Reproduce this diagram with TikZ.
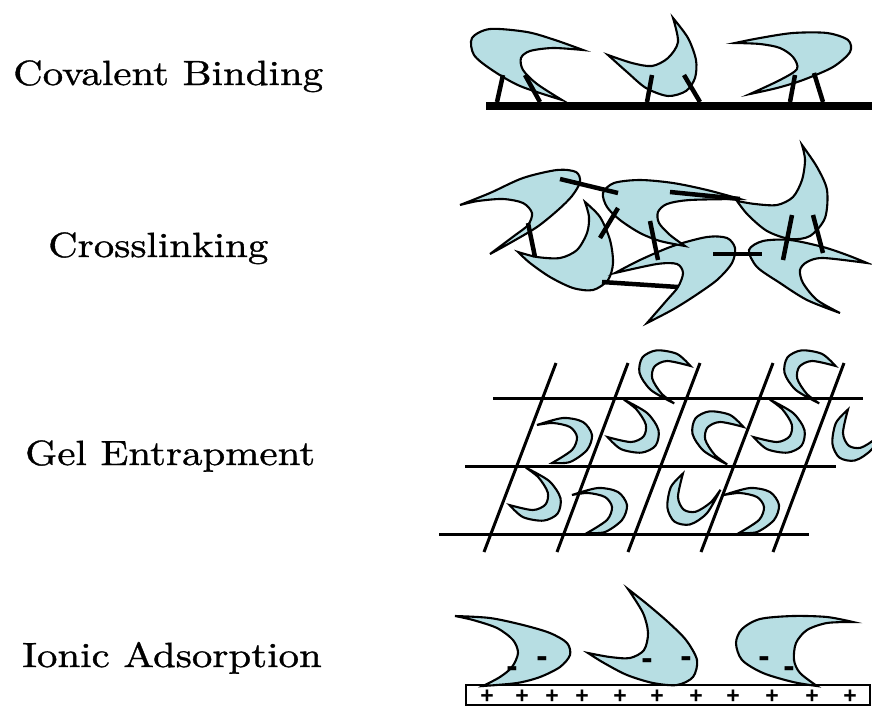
\documentclass[tikz,border=0pt]{standalone}
\usepackage{fontspec}
\newfontfamily\labelfont{lmroman10-regular.otf}[FakeStretch=1.17,FakeBold=1.0]
\newfontfamily\signfont{Liberation Sans}
\definecolor{enzyme}{RGB}{183,222,227}
\tikzset{
  cres/.style={fill=enzyme, draw=black, line width=2.1pt},
  tether/.style={line width=4.5pt},
  gridline/.style={line width=3pt},
  methodlabel/.style={anchor=base west, inner sep=0pt, font=\labelfont\fontsize{35}{40}\selectfont},
  plussign/.style={anchor=base, inner sep=0pt, font=\signfont\bfseries\fontsize{23}{23}\selectfont},
  minussign/.style={inner sep=0pt, font=\signfont\bfseries\fontsize{34}{34}\selectfont},
  % small crescent used in the gel lattice, opening to the left
  gelc/.pic={\filldraw[cres] plot[smooth] coordinates {(-28,-15) (-2,-22) (18,-18) (27,-5) (22,10) (5,22) (-13,23)}
      -- plot[smooth] coordinates {(-13,23) (7,10) (12,-3) (5,-13) (-12,-17) (-28,-15)} -- cycle;}
}
% enzyme outline: outer edge from one tip to the other, then inner edge back
\newcommand\enzymeshape[2]{\filldraw[cres] plot[smooth] coordinates {#1} -- plot[smooth] coordinates {#2} -- cycle;}
\begin{document}
\begin{tikzpicture}[x=1pt,y=-1pt]
\useasboundingbox (0,0) rectangle (872,707);

% ---------- labels ----------
\node[methodlabel] (cov) at (13,85) {Covalent Binding};
\node[methodlabel] (xl) at (48,257) {Crosslinking};
\node[methodlabel] (gel) at (25,465) {Gel Entrapment};
\node[methodlabel] (ion) at (22,667) {Ionic Adsorption};

% ---------- covalent binding ----------
\fill (486,102) rectangle (872,110);
\enzymeshape{(583,50) (555,40) (527,32) (490,29) (472,38) (474,55) (492,70) (520,86) (562,100)}
            {(562,100) (537,84) (523,70) (521,58) (530,51) (553,48) (583,50)}
\enzymeshape{(673,18) (688,38) (696,60) (695,78) (686,91) (668,96) (646,88) (627,72) (608,55)}
            {(608,55) (632,63) (652,66) (668,58) (678,42) (673,18)}
\enzymeshape{(735,43) (760,38) (793,33) (827,33) (848,40) (850,52) (833,67) (803,80) (777,88) (750,94)}
            {(750,94) (780,80) (797,69) (793,57) (780,48) (760,44) (735,43)}
\draw[tether] (503,75) -- (497,102);
\draw[tether] (525,75) -- (540,102);
\draw[tether] (652,75) -- (647,102);
\draw[tether] (684,75) -- (700,102);
\draw[tether] (795,75) -- (790,102);
\draw[tether] (814,73) -- (823,102);

% ---------- crosslinking ----------
\enzymeshape{(585,202) (600,217) (610,240) (613,263) (608,280) (593,290) (573,288) (550,277) (530,263) (518,252)}
            {(518,252) (537,257) (560,258) (577,250) (587,233) (589,217) (585,202)}
\enzymeshape{(615,273) (640,260) (673,246) (707,237) (727,238) (735,248) (732,263) (717,280) (693,297) (672,310) (647,323)}
            {(647,323) (667,300) (678,287) (683,273) (677,264) (657,264) (615,273)}
\enzymeshape{(867,263) (847,255) (823,247) (790,240) (763,241) (749,250) (757,267) (780,283) (807,300) (840,313)}
            {(840,313) (817,300) (803,283) (800,270) (807,262) (823,258) (867,263)}
\enzymeshape{(460,205) (490,193) (523,178) (557,170) (576,172) (580,182) (572,196) (558,210) (537,227) (510,243) (490,254)}
            {(490,254) (514,236) (528,225) (532,213) (523,203) (503,199) (478,201) (460,205)}
\enzymeshape{(740,199) (707,190) (673,183) (640,180) (614,183) (603,193) (607,207) (620,220) (640,233) (660,241) (685,246)}
            {(685,246) (670,235) (659,223) (658,212) (667,204) (690,200) (740,199)}
\enzymeshape{(802,145) (817,167) (827,190) (825,218) (810,236) (790,239) (767,231) (748,215) (737,201)}
            {(737,201) (755,204) (777,205) (793,197) (802,180) (805,160) (802,145)}
\draw[tether] (560,179) -- (618,193);
\draw[tether] (618,208) -- (600,238);
\draw[tether] (650,221) -- (658,260);
\draw[tether] (670,192) -- (740,199);
\draw[tether] (528,223) -- (535,257);
\draw[tether] (602,282) -- (678,287);
\draw[tether] (713,254) -- (762,254);
\draw[tether] (792,215) -- (783,260);
\draw[tether] (813,215) -- (823,253);

% ---------- gel entrapment ----------
\pic[rotate=135] at (665,373) {gelc};
\pic[rotate=135] at (810,373) {gelc};
\pic at (565,440) {gelc};
\pic[rotate=-45] at (633,430) {gelc};
\pic[rotate=135] at (718,434) {gelc};
\pic[rotate=-45] at (779,430) {gelc};
\pic[rotate=225] at (855,435) {gelc};
\pic[rotate=-45] at (535,498) {gelc};
\pic at (600,510) {gelc};
\pic[rotate=225] at (690,499) {gelc};
\pic at (752,510) {gelc};
\draw[gridline] (493,398) -- (863,398);
\draw[gridline] (465,466) -- (836,466);
\draw[gridline] (439,534) -- (809,534);
\draw[gridline] (556,363) -- (484,552);
\draw[gridline] (628,363) -- (557,552);
\draw[gridline] (700,363) -- (628,552);
\draw[gridline] (773,363) -- (701,552);
\draw[gridline] (844,363) -- (773,552);

% ---------- ionic adsorption ----------
\draw[line width=1.5pt] (466,685) rectangle (870,705);
\enzymeshape{(455,616) (490,618) (523,625) (550,633) (567,643) (570,655) (560,667) (540,677) (517,683) (483,686)}
            {(483,686) (500,677) (512,667) (518,653) (513,640) (497,628) (473,620) (455,616)}
\enzymeshape{(628,589) (647,604) (668,622) (686,640) (697,660) (693,677) (677,685) (653,683) (627,675) (604,663) (588,653)}
            {(588,653) (610,657) (630,658) (644,650) (648,633) (643,613) (628,589)}
\enzymeshape{(853,622) (827,617) (793,616) (760,619) (742,629) (736,643) (742,660) (763,673) (793,682) (817,686)}
            {(817,686) (800,673) (794,660) (796,643) (807,630) (827,623) (853,622)}
\foreach \x [count=\i] in {487,522,552,582,620,657,696,733,772,812,850}
  \node[plussign] (plus\i) at (\x,703.5) {+};
\foreach \x/\y [count=\i] in {512/672, 542/662, 647/664, 686/662, 764/662, 789/672}
  \node[minussign] (minus\i) at (\x,\y) {-};
\end{tikzpicture}
\end{document}
